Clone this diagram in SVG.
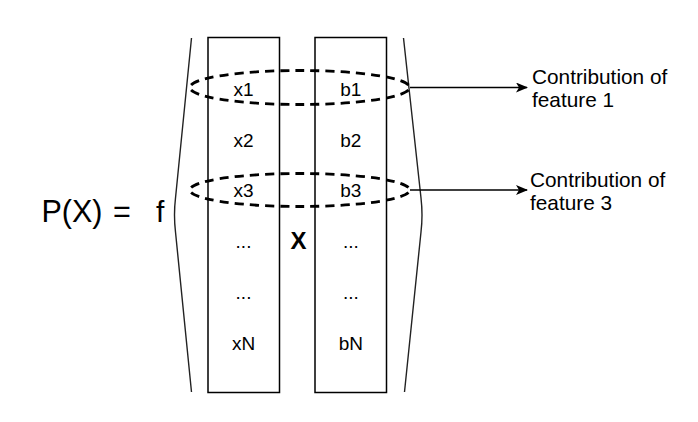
<svg xmlns="http://www.w3.org/2000/svg" width="698" height="422" viewBox="0 0 698 422">
  <style>
    .t { font-family: "Liberation Sans", Arial, sans-serif; fill: #000; }
    .cell { font-size: 19px; text-anchor: middle; }
    .lbl { font-size: 20.8px; }
    .col { fill: none; stroke: #000; stroke-width: 1.5; }
    .paren { fill: none; stroke: #222; stroke-width: 1.4; }
    .ring { fill: none; stroke: #000; stroke-width: 2.8; stroke-dasharray: 9 6; stroke-dashoffset: 12; }
    .link { fill: none; stroke: #000; stroke-width: 1.6; }
  </style>
  <defs>
    <marker id="arrow" markerWidth="12" markerHeight="10" refX="11" refY="5" orient="auto" markerUnits="userSpaceOnUse">
      <path d="M0,0 L12,5 L0,10 L3,5 Z" fill="#000"/>
    </marker>
  </defs>

  <rect width="698" height="422" fill="#fff"/>

  <!-- formula prefix -->
  <g id="formula">
    <text class="t" x="41.5" y="222" font-size="30.5px">P(X)</text>
    <text class="t" x="113" y="222" font-size="30.5px">=</text>
    <text class="t" x="156" y="222" font-size="30px">f</text>
  </g>

  <!-- enclosing brackets -->
  <g id="brackets">
    <path class="paren" d="M191.5,38 L175.5,198 Q173.5,215 175.5,232 L191.5,392"/>
    <path class="paren" d="M403.5,38 L421,198 Q423,215 421,232 L404.5,392"/>
  </g>

  <!-- feature vector -->
  <g id="x-vector">
    <rect class="col" x="208" y="37.5" width="71.5" height="355"/>
    <text class="t cell" x="243.5" y="96">x1</text>
    <text class="t cell" x="243.5" y="147">x2</text>
    <text class="t cell" x="243.5" y="197">x3</text>
    <text class="t cell" x="243.5" y="248">...</text>
    <text class="t cell" x="243.5" y="299">...</text>
    <text class="t cell" x="243.5" y="350">xN</text>
  </g>

  <!-- multiplication sign -->
  <g id="times">
    <text class="t" x="298.5" y="248.5" font-size="24px" font-weight="bold" text-anchor="middle">X</text>
  </g>

  <!-- coefficient vector -->
  <g id="b-vector">
    <rect class="col" x="315" y="37.5" width="71.5" height="355"/>
    <text class="t cell" x="350.8" y="96">b1</text>
    <text class="t cell" x="350.8" y="147">b2</text>
    <text class="t cell" x="350.8" y="197">b3</text>
    <text class="t cell" x="350.8" y="248">...</text>
    <text class="t cell" x="350.8" y="299">...</text>
    <text class="t cell" x="350.8" y="350">bN</text>
  </g>

  <!-- grouped feature/coefficient pairs (gaps land on both ends) -->
  <g id="pair-1">
    <ellipse class="ring" cx="299.8" cy="87.5" rx="110" ry="17" pathLength="450"/>
  </g>
  <g id="pair-3">
    <ellipse class="ring" cx="299.8" cy="190" rx="110" ry="16.5" pathLength="450"/>
  </g>

  <!-- output labels -->
  <g id="label-1">
    <text class="t lbl" x="532" y="84">Contribution of</text>
    <text class="t lbl" x="532" y="107">feature 1</text>
  </g>
  <g id="label-3">
    <text class="t lbl" x="530" y="187">Contribution of</text>
    <text class="t lbl" x="530" y="210">feature 3</text>
  </g>

  <!-- connectors -->
  <g id="connectors">
    <line class="link" x1="410" y1="87.5" x2="527" y2="87.5" marker-end="url(#arrow)"/>
    <line class="link" x1="410" y1="190" x2="527" y2="190" marker-end="url(#arrow)"/>
  </g>
</svg>
